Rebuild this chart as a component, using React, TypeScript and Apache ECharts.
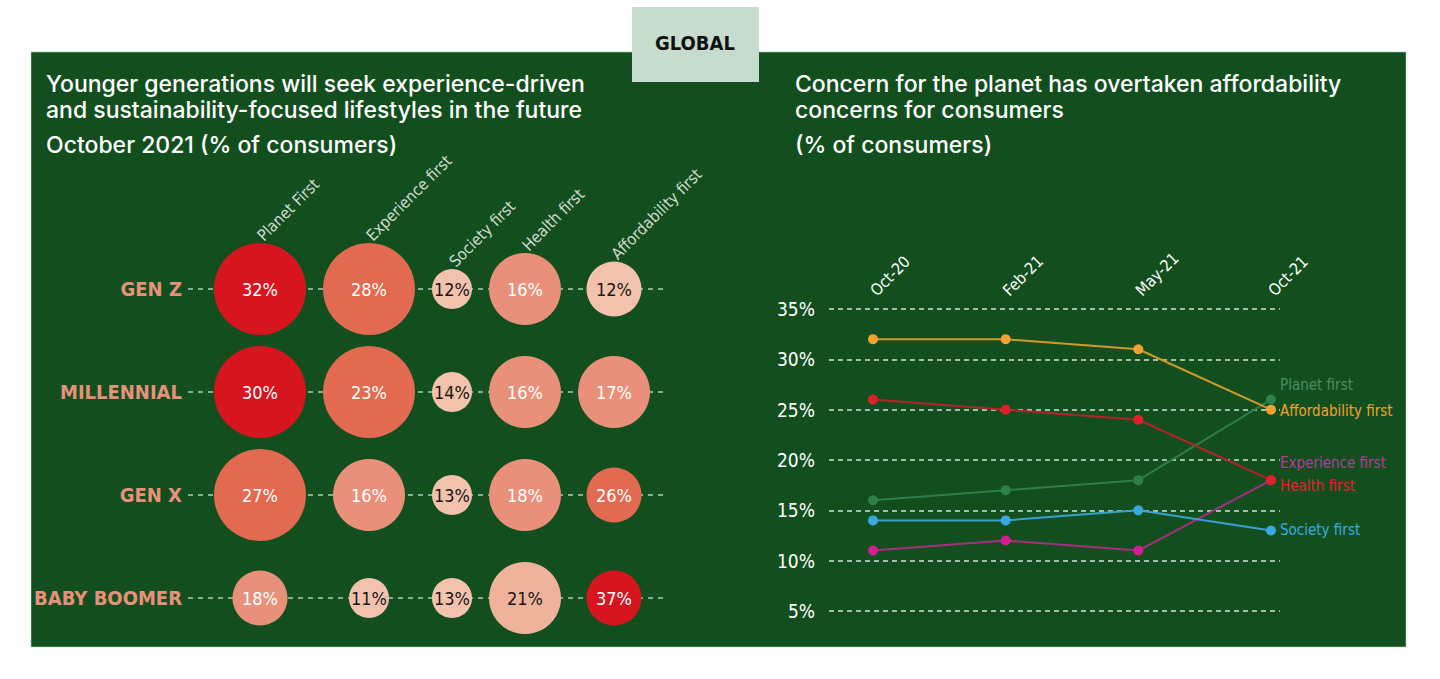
import React, { useEffect, useRef } from "react";
import * as echarts from "echarts";

// ---------- Data: left (bubble matrix) ----------
const generations = ["GEN Z", "MILLENNIAL", "GEN X", "BABY BOOMER"];
const lifestyles = ["Planet First", "Experience first", "Society first", "Health first", "Affordability first"];
const genZ = [32, 28, 12, 16, 12];
const millennial = [30, 23, 14, 16, 17];
const genX = [27, 16, 13, 18, 26];
const babyBoomer = [18, 11, 13, 21, 37];
// bubble size rank (0 smallest .. 3 largest) as encoded in the source graphic
const sizeRankGenZ = [3, 3, 0, 2, 1];
const sizeRankMillennial = [3, 3, 0, 2, 2];
const sizeRankGenX = [3, 2, 0, 2, 1];
const sizeRankBabyBoomer = [1, 0, 0, 2, 1];
// bubble shade rank (0 lightest .. 4 darkest) as encoded in the source graphic
const shadeRankGenZ = [4, 3, 0, 2, 0];
const shadeRankMillennial = [4, 3, 0, 2, 2];
const shadeRankGenX = [3, 2, 0, 2, 3];
const shadeRankBabyBoomer = [2, 0, 0, 1, 4];

// ---------- Data: right (lines) ----------
const months = ["Oct-20", "Feb-21", "May-21", "Oct-21"];
const planetFirst = [16, 17, 18, 26];
const experienceFirst = [11, 12, 11, 18];
const societyFirst = [14, 14, 15, 13];
const healthFirst = [26, 25, 24, 18];
const affordabilityFirst = [32, 32, 31, 25];

// ---------- Styles ----------
const NARROW = '"Liberation Sans Narrow", "DejaVu Sans Condensed", "Roboto", sans-serif';
const SANS = 'Inter, "Open Sans", "Noto Sans", sans-serif';
const PANEL = "#134f1e";
const SIZE_PX = [40, 55, 72, 92];
const SHADES = ["#f3c2ac", "#efb39c", "#e9907a", "#e26a50", "#d7151f"];
const SHADE_TEXT = ["#161616", "#161616", "#ffffff", "#ffffff", "#ffffff"];

export default function App() {
  const ref = useRef<HTMLDivElement>(null);

  useEffect(() => {
    if (!ref.current) return;
    const chart = echarts.init(ref.current, undefined, { renderer: "svg" });

    const values = [genZ, millennial, genX, babyBoomer];
    const sizeRanks = [sizeRankGenZ, sizeRankMillennial, sizeRankGenX, sizeRankBabyBoomer];
    const shadeRanks = [shadeRankGenZ, shadeRankMillennial, shadeRankGenX, shadeRankBabyBoomer];

    // column centres packed by the widest bubble of each column
    const leftPad = 26;
    const gap = 17;
    const colMax = lifestyles.map((_, c) => Math.max(...sizeRanks.map((r) => SIZE_PX[r[c]])));
    const colPos: number[] = [];
    colMax.forEach((w, c) => {
      if (c === 0) colPos.push(leftPad + w / 2);
      else colPos.push(colPos[c - 1] + colMax[c - 1] / 2 + gap + w / 2);
    });

    const bubbleData: any[] = [];
    values.forEach((row, r) => {
      row.forEach((v, c) => {
        const shade = shadeRanks[r][c];
        bubbleData.push({
          value: [colPos[c], r, v],
          symbolSize: SIZE_PX[sizeRanks[r][c]],
          itemStyle: { color: SHADES[shade], opacity: 1 },
          label: { color: SHADE_TEXT[shade] },
        });
      });
    });

    const headerData = lifestyles.map((name, c) => ({
      value: [colPos[c], 0],
      name,
      symbolSize: SIZE_PX[sizeRankGenZ[c]],
    }));

    const lineSeries = (
      name: string,
      data: number[],
      dot: string,
      line: string,
      labelColor: string,
      offsetY: number
    ) => ({
      type: "line",
      name,
      xAxisIndex: 1,
      yAxisIndex: 1,
      data,
      symbol: "circle",
      symbolSize: 10,
      itemStyle: { color: dot },
      lineStyle: { color: line, width: 2 },
      endLabel: {
        show: true,
        formatter: name,
        color: labelColor,
        fontFamily: NARROW,
        fontSize: 15,
        distance: 9,
        offset: [0, offsetY],
      },
      z: 3,
    });

    const titleStyle = (text: string, x: number, y: number) => ({
      type: "text",
      style: {
        text,
        x,
        y,
        verticalAlign: "middle",
        fill: "#ffffff",
        font: `500 23px ${SANS}`,
      },
    });

    const option: any = {
      animation: false,
      backgroundColor: "#ffffff",
      graphic: [
        {
          type: "rect",
          z: -10,
          shape: { x: 31, y: 52, width: 1375, height: 595 },
          style: { fill: PANEL, stroke: "#a9cdb4", lineWidth: 0.6 },
        },
        {
          type: "rect",
          z: 10,
          shape: { x: 632, y: 7, width: 127, height: 75 },
          style: { fill: "#c6dccf" },
        },
        {
          type: "text",
          z: 11,
          style: {
            text: "GLOBAL",
            x: 695,
            y: 43,
            align: "center",
            verticalAlign: "middle",
            fill: "#111111",
            font: `bold 20px ${NARROW}`,
          },
        },
        titleStyle("Younger generations will seek experience-driven", 46, 84),
        titleStyle("and sustainability-focused lifestyles in the future", 46, 110),
        titleStyle("October 2021 (% of consumers)", 46, 145),
        titleStyle("Concern for the planet has overtaken affordability", 795, 84),
        titleStyle("concerns for consumers", 795, 110),
        titleStyle("(% of consumers)", 795, 145),
      ],
      grid: [
        { left: 188, top: 289, width: 475, height: 309 },
        { left: 873, top: 309, width: 398, height: 302 },
        { left: 829, top: 309, width: 451, height: 302 },
      ],
      xAxis: [
        { type: "value", gridIndex: 0, min: 0, max: 475, show: false },
        {
          type: "category",
          gridIndex: 1,
          position: "top",
          boundaryGap: false,
          data: months,
          axisLine: { show: false },
          axisTick: { show: false },
          splitLine: { show: false },
          axisLabel: {
            interval: 0,
            rotate: -45,
            margin: 16,
            color: "#ffffff",
            fontFamily: NARROW,
            fontSize: 16,
          },
        },
        { type: "value", gridIndex: 2, min: 0, max: 1, show: false },
      ],
      yAxis: [
        {
          type: "category",
          gridIndex: 0,
          inverse: true,
          boundaryGap: false,
          data: generations,
          axisLine: { show: false },
          axisTick: { show: false },
          axisLabel: {
            interval: 0,
            margin: 6,
            color: "#e8917a",
            fontFamily: NARROW,
            fontWeight: "bold",
            fontSize: 20,
          },
          splitLine: {
            show: true,
            interval: 0,
            lineStyle: { color: "#a9d0b6", width: 1.5, type: [5, 5] },
          },
        },
        { type: "value", gridIndex: 1, min: 5, max: 35, interval: 5, show: false },
        {
          type: "value",
          gridIndex: 2,
          min: 5,
          max: 35,
          interval: 5,
          axisLine: { show: false },
          axisTick: { show: false },
          axisLabel: {
            formatter: "{value}%",
            margin: 14,
            color: "#ffffff",
            fontFamily: NARROW,
            fontSize: 19,
          },
          splitLine: {
            show: true,
            lineStyle: { color: "#d3e5d8", width: 1.5, type: [5, 4] },
          },
        },
      ],
      series: [
        {
          type: "scatter",
          name: "headers",
          xAxisIndex: 0,
          yAxisIndex: 0,
          data: headerData,
          silent: true,
          itemStyle: { color: "rgba(0,0,0,0)" },
          label: {
            show: true,
            position: "top",
            distance: 5,
            rotate: 45,
            align: "left",
            verticalAlign: "middle",
            formatter: (p: any) => p.name,
            color: "#ffffff",
            fontFamily: NARROW,
            fontSize: 16,
          },
          z: 1,
        },
        {
          type: "scatter",
          name: "bubbles",
          xAxisIndex: 0,
          yAxisIndex: 0,
          data: bubbleData,
          label: {
            show: true,
            position: "inside",
            formatter: (p: any) => p.value[2] + "%",
            fontFamily: NARROW,
            fontSize: 18,
          },
          z: 2,
        },
        lineSeries("Planet first", planetFirst, "#2d8048", "#2f7d47", "#4a8d62", -15),
        lineSeries("Experience first", experienceFirst, "#d41c94", "#a2307f", "#b33a9c", -17),
        lineSeries("Society first", societyFirst, "#3aa8e0", "#3a9fd0", "#3aaae2", 0),
        lineSeries("Health first", healthFirst, "#e01f2a", "#b3232a", "#e2202b", 6),
        lineSeries("Affordability first", affordabilityFirst, "#f2a232", "#cf9a2c", "#f2a030", 1),
      ],
    };

    chart.setOption(option);
    return () => chart.dispose();
  }, []);

  return (
    <div
      ref={ref}
      style={{ position: "fixed", left: 0, top: 0, width: 1440, height: 679, background: "#ffffff" }}
    />
  );
}
